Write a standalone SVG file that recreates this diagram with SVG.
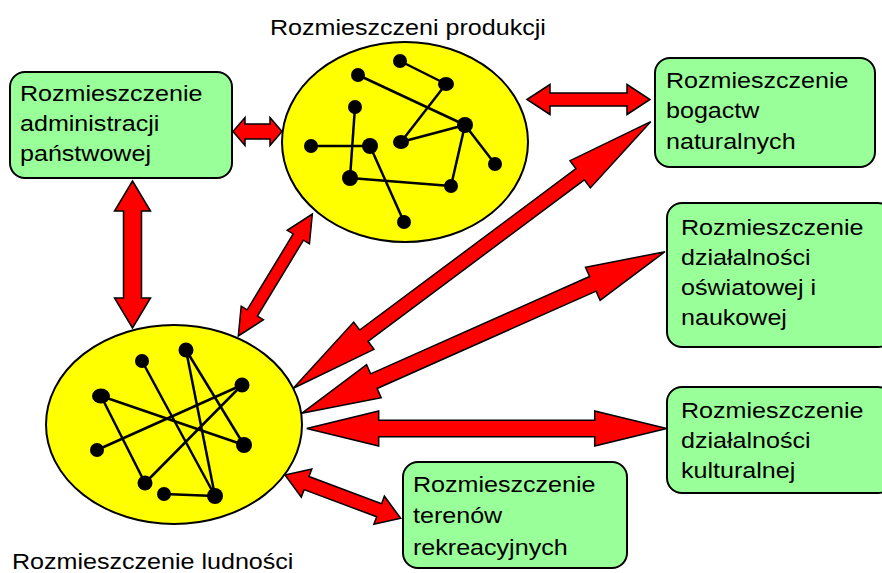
<svg xmlns="http://www.w3.org/2000/svg" width="882" height="573" viewBox="0 0 882 573">
<style>
.box{fill:#99FF99;stroke:#000;stroke-width:2}
.ell{fill:#FFFF00;stroke:#000;stroke-width:2}
.lbl{font-family:"Liberation Sans",Arial,sans-serif;font-size:22px;fill:#000}
.edge{stroke:#000;stroke-width:2.5;fill:none}
.dot{fill:#000}
.arr{fill:#FF0000;stroke:#000;stroke-width:1.5;stroke-linejoin:miter}
</style>
<rect width="882" height="573" fill="#fff"/>

<g id="label-produkcja">
<text class="lbl" transform="translate(270,35) scale(1.14,1)">Rozmieszczeni produkcji</text>
</g>
<g id="label-ludnosc">
<text class="lbl" transform="translate(12,569) scale(1.14,1)">Rozmieszczenie ludności</text>
</g>

<g id="produkcja">
<ellipse class="ell" cx="405" cy="142" rx="123" ry="100"/>
<g class="edge">
<line x1="400" y1="61" x2="446" y2="84"/>
<line x1="358" y1="75" x2="465" y2="125"/>
<line x1="446" y1="84" x2="401" y2="142"/>
<line x1="401" y1="142" x2="465" y2="125"/>
<line x1="465" y1="125" x2="495" y2="164"/>
<line x1="465" y1="125" x2="451" y2="186"/>
<line x1="451" y1="186" x2="350" y2="178"/>
<line x1="355" y1="107" x2="350" y2="178"/>
<line x1="311" y1="146" x2="370" y2="146"/>
<line x1="370" y1="146" x2="404" y2="222"/>
</g>
<g class="dot">
<circle cx="400" cy="61" r="7"/>
<circle cx="358" cy="75" r="7"/>
<ellipse cx="446" cy="84" rx="8" ry="7"/>
<circle cx="355" cy="107" r="7"/>
<circle cx="465" cy="125" r="8"/>
<circle cx="311" cy="146" r="7"/>
<circle cx="370" cy="146" r="8"/>
<ellipse cx="401" cy="142" rx="8" ry="7"/>
<circle cx="495" cy="164" r="7"/>
<circle cx="350" cy="178" r="8"/>
<circle cx="451" cy="186" r="7"/>
<circle cx="404" cy="222" r="7"/>
</g>
</g>

<g id="ludnosc">
<ellipse class="ell" cx="174" cy="424.5" rx="128" ry="99.5"/>
<g class="edge">
<line x1="101" y1="396" x2="244" y2="445"/>
<line x1="101" y1="396" x2="145" y2="483"/>
<line x1="142" y1="361" x2="215" y2="496"/>
<line x1="186" y1="350" x2="215" y2="496"/>
<line x1="186" y1="350" x2="244" y2="445"/>
<line x1="242" y1="385" x2="97" y2="450"/>
<line x1="242" y1="385" x2="145" y2="483"/>
<line x1="164" y1="494" x2="215" y2="496"/>
</g>
<g class="dot">
<ellipse cx="101" cy="396" rx="9" ry="7.5"/>
<circle cx="142" cy="361" r="7"/>
<circle cx="186" cy="350" r="7.5"/>
<circle cx="242" cy="385" r="7.5"/>
<circle cx="97" cy="450" r="7"/>
<ellipse cx="244" cy="445" rx="8" ry="8"/>
<circle cx="145" cy="483" r="7.5"/>
<circle cx="164" cy="494" r="7"/>
<circle cx="215" cy="496" r="8"/>
</g>
</g>

<g id="administracja">
<rect class="box" x="10" y="72" width="222" height="106" rx="15"/>
<text class="lbl" transform="translate(20,101) scale(1.14,1)"><tspan x="0" y="0">Rozmieszczenie</tspan><tspan x="0" y="30">administracji</tspan><tspan x="0" y="60">państwowej</tspan></text>
</g>

<g id="bogactwa">
<rect class="box" x="655" y="58" width="220" height="109" rx="15"/>
<text class="lbl" transform="translate(666,88) scale(1.14,1)"><tspan x="0" y="0">Rozmieszczenie</tspan><tspan x="0" y="30">bogactw</tspan><tspan x="0" y="61">naturalnych</tspan></text>
</g>

<g id="oswiata">
<rect class="box" x="667" y="203" width="226" height="144" rx="15"/>
<text class="lbl" transform="translate(681,235) scale(1.14,1)"><tspan x="0" y="0">Rozmieszczenie</tspan><tspan x="0" y="30">działalności</tspan><tspan x="0" y="60">oświatowej i</tspan><tspan x="0" y="90">naukowej</tspan></text>
</g>

<g id="kultura">
<rect class="box" x="667" y="387" width="226" height="106" rx="15"/>
<text class="lbl" transform="translate(681,418) scale(1.14,1)"><tspan x="0" y="0">Rozmieszczenie</tspan><tspan x="0" y="30">działalności</tspan><tspan x="0" y="60">kulturalnej</tspan></text>
</g>

<g id="rekreacja">
<rect class="box" x="403" y="462" width="224" height="106" rx="15"/>
<text class="lbl" transform="translate(413,492) scale(1.14,1)"><tspan x="0" y="0">Rozmieszczenie</tspan><tspan x="0" y="31">terenów</tspan><tspan x="0" y="63">rekreacyjnych</tspan></text>
</g>

<g id="connectors">
<polygon class="arr" points="233,131.5 245,117.5 245,124 270,124 270,117.5 282,131.5 270,145.5 270,139 245,139 245,145.5"/>
<polygon class="arr" points="527,99.5 550,84.5 550,93 627,93 627,84.5 650,99.5 627,114.5 627,106 550,106 550,114.5"/>
<polygon class="arr" points="132.5,181 150.5,211 141.5,211 141.5,298 150.5,298 132.5,328 114.5,298 123.5,298 123.5,211 114.5,211"/>
<polygon class="arr" transform="translate(238.3,336) rotate(-58.75)" points="0,0 27,-13 27,-6 115.7,-6 115.7,-13 142.7,0 115.7,13 115.7,6 27,6 27,13"/>
<polygon class="arr" transform="translate(293.3,388.3) rotate(-36.72)" points="0,0 88,-17 88,-7 357.9,-7 357.9,-17 445.9,0 357.9,17 357.9,7 88,7 88,17"/>
<polygon class="arr" transform="translate(301.7,413.3) rotate(-23.98)" points="0,0 79,-18 79,-8 318.6,-8 318.6,-18 397.6,0 318.6,18 318.6,8 79,8 79,18"/>
<polygon class="arr" points="306.7,428.5 378.7,411 378.7,420.2 594.7,420.2 594.7,411 666.7,428.5 594.7,446 594.7,436.8 378.7,436.8 378.7,446"/>
<polygon class="arr" transform="translate(285,475) rotate(20.52)" points="0,0 23,-15 23,-7 100.5,-7 100.5,-15 123.5,0 100.5,15 100.5,7 23,7 23,15"/>
</g>
</svg>
